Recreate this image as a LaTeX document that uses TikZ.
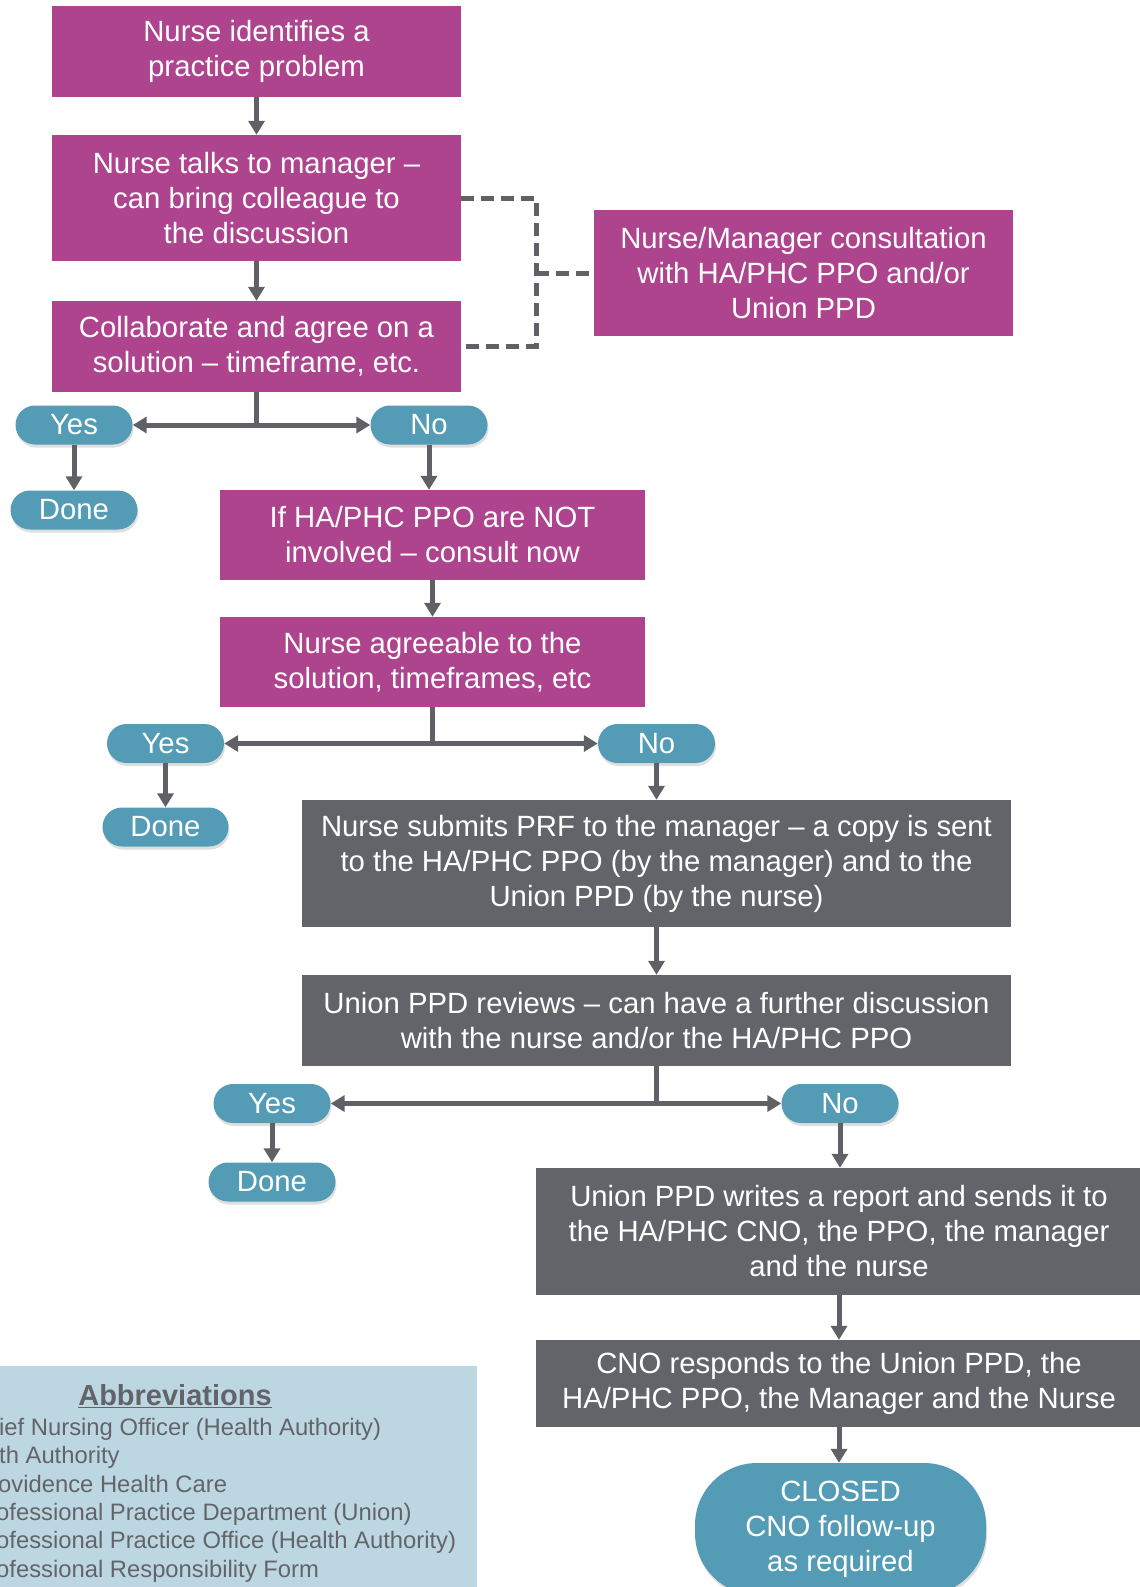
\documentclass[tikz,border=0pt]{standalone}
\usepackage{fontspec}
\setmainfont{Liberation Sans}
\usetikzlibrary{arrows.meta,shadows,positioning}
\definecolor{plum}{RGB}{174,68,142}
\definecolor{slate}{RGB}{99,100,106}
\definecolor{pillblue}{RGB}{84,156,182}
\definecolor{paleblue}{RGB}{188,215,225}
\definecolor{wire}{RGB}{96,97,103}
\tikzset{
  stepbox/.style={fill=plum, text=white, align=center, inner sep=0pt,
    font=\fontsize{29.3}{35}\selectfont},
  greybox/.style={stepbox, fill=slate},
  answer/.style={fill=pillblue, text=white, align=center, inner sep=0pt, rounded corners=19.5pt,
    minimum width=117pt, minimum height=39pt, font=\fontsize{29.3}{35}\selectfont,
    drop shadow={opacity=0.25, shadow xshift=1pt, shadow yshift=-3pt}},
  arr/.style={draw=wire, line width=5pt, -{Triangle[width=16pt,length=14pt]}},
  dashline/.style={draw=wire, line width=5pt, dash pattern=on 13pt off 7pt},
  abbr/.style={text=slate, inner sep=0pt, anchor=base west,
    font=\fontsize{23.8}{28}\selectfont}
}
\begin{document}
\begin{tikzpicture}[x=1pt, y=-1pt]
  \clip (0,0) rectangle (1140,1587);
  % first stage
  \node[stepbox, minimum width=409pt, minimum height=91pt] (identify) at (256.5,51.5) {Nurse identifies a\\practice problem};
  \node[stepbox, minimum width=409pt, minimum height=126pt] (talk) at (256.5,198) {Nurse talks to manager --\\can bring colleague to\\the discussion};
  \node[stepbox, minimum width=409pt, minimum height=91pt] (agree) at (256.5,346.5) {Collaborate and agree on a\\solution -- timeframe, etc.};
  \node[stepbox, minimum width=419pt, minimum height=126pt] (consult) at (803.5,273) {Nurse/Manager consultation\\with HA/PHC PPO and/or\\Union PPD};
  \node[answer] (yesA) at (74,425) {Yes};
  \node[answer] (noA) at (429,425) {No};
  \node[answer, minimum width=127pt] (doneA) at (74,510) {Done};
  \draw[arr] (identify) -- (talk);
  \draw[arr] (talk) -- (agree);
  \coordinate (bend) at (536,273);
  \draw[dashline] (talk.east) -| (bend) |- (agree.east);
  \draw[dashline] (bend) -- (consult.west);
  \draw[arr] (agree.south) |- (yesA);
  \draw[arr] (agree.south) |- (noA);
  \draw[arr] (yesA) -- (doneA);

  % second stage
  \node[stepbox, minimum width=425pt, minimum height=90pt] (notinv) at (432.5,535) {If HA/PHC PPO are NOT\\involved -- consult now};
  \node[stepbox, minimum width=425pt, minimum height=90pt] (agreeable) at (432.5,662) {Nurse agreeable to the\\solution, timeframes, etc};
  \node[answer] (yesB) at (165.5,743.5) {Yes};
  \node[answer] (noB) at (656.5,743.5) {No};
  \node[answer, minimum width=126pt] (doneB) at (165.5,827) {Done};
  \draw[arr] (noA.south) -- (noA.south |- notinv.north);
  \draw[arr] (notinv) -- (agreeable);
  \draw[arr] (agreeable.south) |- (yesB);
  \draw[arr] (agreeable.south) |- (noB);
  \draw[arr] (yesB) -- (doneB);

  % union stage
  \node[greybox, minimum width=709pt, minimum height=127pt] (submit) at (656.5,863.5) {Nurse submits PRF to the manager -- a copy is sent\\to the HA/PHC PPO (by the manager) and to the\\Union PPD (by the nurse)};
  \node[greybox, minimum width=709pt, minimum height=91pt] (review) at (656.5,1020.5) {Union PPD reviews -- can have a further discussion\\with the nurse and/or the HA/PHC PPO};
  \node[answer] (yesC) at (272,1103.5) {Yes};
  \node[answer] (noC) at (840,1103.5) {No};
  \node[answer, minimum width=127pt] (doneC) at (272,1182) {Done};
  \draw[arr] (noB) -- (submit);
  \draw[arr] (submit) -- (review);
  \draw[arr] (review.south) |- (yesC);
  \draw[arr] (review.south) |- (noC);
  \draw[arr] (yesC) -- (doneC);

  % closing stage
  \node[greybox, minimum width=606pt, minimum height=127pt] (report) at (839,1231.5) {Union PPD writes a report and sends it to\\the HA/PHC CNO, the PPO, the manager\\and the nurse};
  \node[greybox, minimum width=606pt, minimum height=87pt] (cnoreply) at (839,1383.5) {CNO responds to the Union PPD, the\\HA/PHC PPO, the Manager and the Nurse};
  \node[answer, rounded corners=62pt, minimum width=291pt, minimum height=132pt] (closed) at (840.5,1529) {CLOSED\\CNO follow-up\\as required};
  \draw[arr] (noC.south) -- (noC.south |- report.north);
  \draw[arr] (report) -- (cnoreply);
  \draw[arr] (cnoreply.south) -- (cnoreply.south |- closed.north);

  % abbreviations
  \node[fill=paleblue, anchor=north west, minimum width=487pt, minimum height=240pt] (legend) at (-10,1366) {};
  \node[text=slate, anchor=base, inner sep=0pt, font=\bfseries\fontsize{29}{34}\selectfont] (legendtitle) at (175,1405) {\underline{Abbreviations}};
  \node[abbr] (abbrA) at (-1,1435) {ief Nursing Officer (Health Authority)};
  \node[abbr] (abbrB) at (-1,1463.5) {th Authority};
  \node[abbr] (abbrC) at (-2,1492) {ovidence Health Care};
  \node[abbr] (abbrD) at (-4,1520) {ofessional Practice Department (Union)};
  \node[abbr] (abbrE) at (-4,1548.5) {ofessional Practice Office (Health Authority)};
  \node[abbr] (abbrF) at (-4,1577) {ofessional Responsibility Form};
\end{tikzpicture}
\end{document}
